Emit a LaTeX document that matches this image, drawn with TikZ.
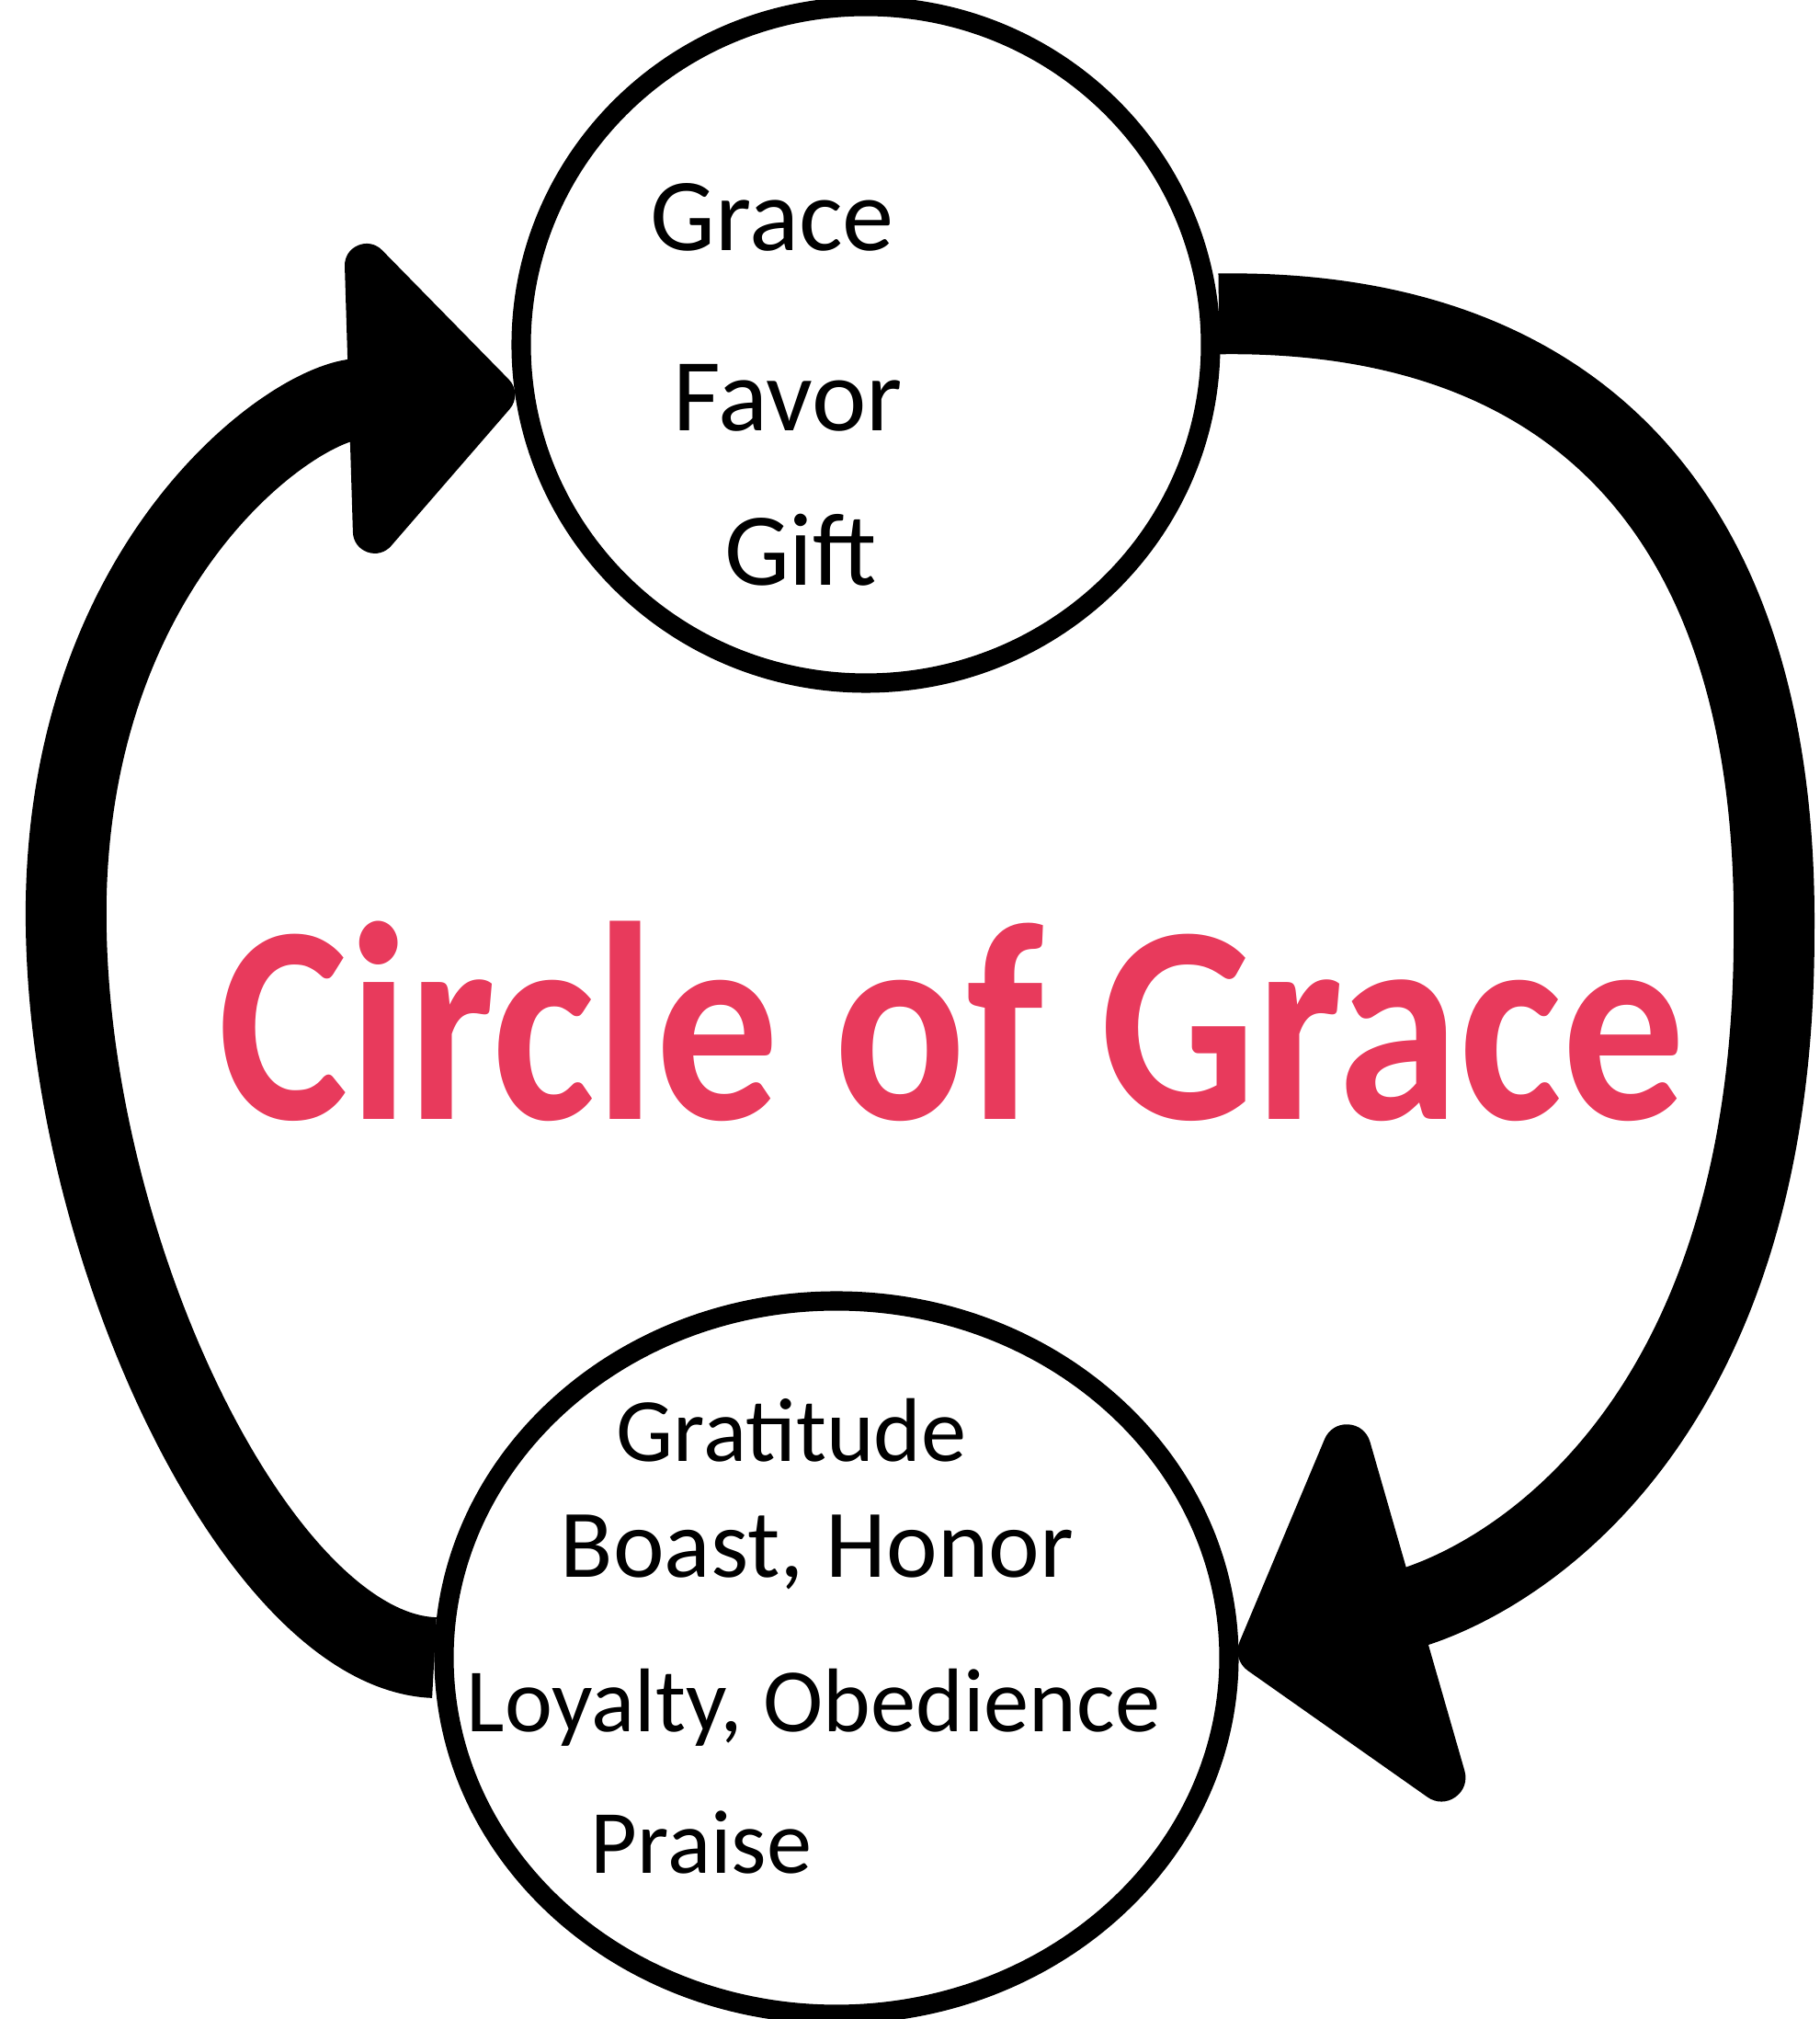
\documentclass[tikz,border=0pt]{standalone}
\usepackage{fontspec}
\setmainfont{Carlito}
\usepackage{xcolor}
\usepackage{tikz}
\usetikzlibrary{arrows.meta,positioning,shapes.geometric}
\definecolor{gracered}{HTML}{E83A5C}

\begin{document}
\begin{tikzpicture}[
  bubble/.style={draw, ellipse, line width=6pt, inner sep=0pt},
  word/.style={anchor=base, font=\fontsize{32}{38}\selectfont},
  smallword/.style={anchor=base, font=\fontsize{28}{34}\selectfont},
  band/.style={line width=25pt}
]
\useasboundingbox (0,0) rectangle (19.79,21.96);
\node[bubble, minimum width=7.5cm, minimum height=7.36cm] (top) at (9.42,18.21) {};
\node[bubble, minimum width=8.54cm, minimum height=7.76cm] (bottom) at (9.10,3.93) {};
\node[word] (grace) at (8.40,19.23) {Grace};
\node[word] (favor) at (8.57,17.27) {Favor};
\node[word] (gift) at (8.71,15.59) {Gift};
\node[smallword] (gratitude) at (8.61,6.06) {Gratitude};
\node[smallword, font=\fontsize{30}{36}\selectfont] (boast) at (8.89,4.80) {Boast, Honor};
\node[smallword] (loyalty) at (8.85,3.12) {Loyalty, Obedience};
\node[smallword] (praise) at (7.63,1.58) {Praise};
\node[anchor=base, text=gracered, font=\fontsize{76}{90}\selectfont\bfseries] (title) at (10.36,9.78) {\scalebox{1}[1.15]{Circle of Grace}};
\draw[band, -{Triangle[round, length=2.1cm, width=5.1cm]}] (top.5)
  .. controls (17,18.6) and (19.35,16.5) .. (19.3,11.8)
  .. controls (19.3,6.5) and (16.5,4.8) .. (bottom.east);
\draw[band, -{Triangle[round, length=1.9cm, width=4cm]}] (bottom.west)
  .. controls (2.8,4.0) and (0.65,8.5) .. (0.72,12.2)
  .. controls (0.8,15.9) and (3.2,17.6) .. (top.188);
\end{tikzpicture}
\end{document}
